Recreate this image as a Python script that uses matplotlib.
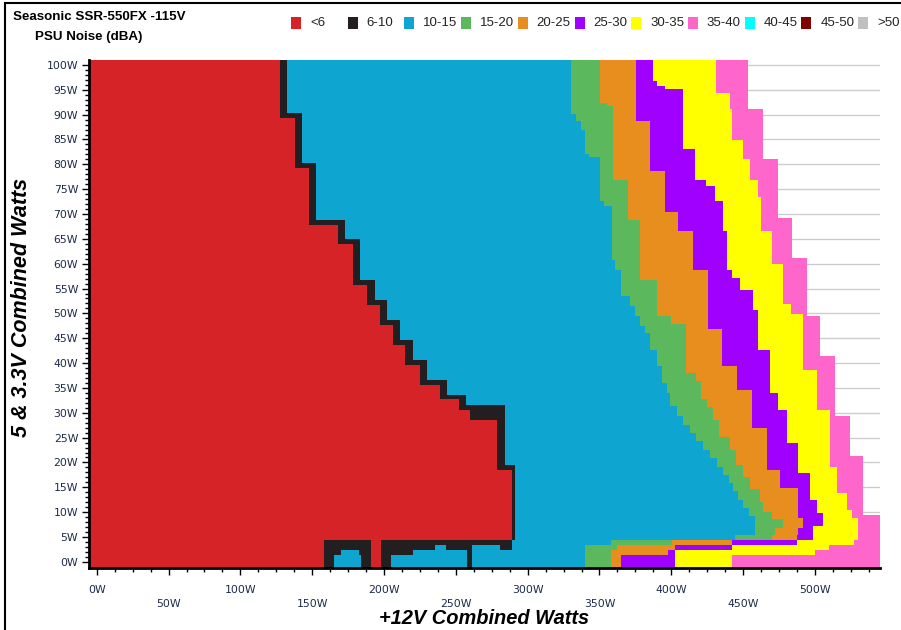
import numpy as np
import matplotlib
matplotlib.use('Agg')
import matplotlib.pyplot as plt
from matplotlib.colors import ListedColormap
from matplotlib.patches import Rectangle

# noise bands (dBA)
legend_labels = ['<6', '6-10', '10-15', '15-20', '20-25', '25-30', '30-35', '35-40', '40-45', '45-50', '>50']
legend_colors = ['#D62327', '#231F20', '#0EA5D1', '#5CB85C', '#E88E1E', '#A000FF',
                 '#FFFF00', '#FF66CC', '#00FFFF', '#800000', '#C0C0C0']

# band edges above ~4W on the 5/3.3V rail.
# each pair: (lowest 5&3.3V watts of the step, +12V watts where the next band starts)
red_edge = [(89.3, 127.6), (79.2, 138), (67.8, 148), (63.8, 168), (55.7, 178.6), (51.7, 188.4),
            (47.6, 197), (43.6, 206), (39.6, 215), (35.6, 225), (32.6, 239), (30.5, 252),
            (28.5, 260), (18.5, 279), (4.4, 289)]
black_edge = [(90.3, 132.7), (80.2, 143), (68.8, 153), (64.8, 173), (56.7, 183.5), (52.7, 193.5),
              (48.6, 202), (44.6, 211), (40.6, 220), (36.6, 230), (33.6, 244), (31.5, 257),
              (19.5, 284), (4.4, 291)]
blue_edge = [(90.0, 330.5), (88.6, 333.5), (86.9, 337.6), (81.9, 340), (81.3, 343), (72.5, 350.3),
             (71.5, 353), (60.7, 358.5), (58.7, 361), (53.4, 365.4), (51.5, 371), (49.3, 375),
             (47.3, 378), (46.0, 381.6), (42.6, 385), (39.3, 389.8), (35.9, 393.2), (33.9, 396.7),
             (31.2, 399), (29.2, 403.7), (27.5, 408.3), (25.9, 413), (24.2, 417.6), (22.5, 422),
             (20.8, 427), (19.1, 431.5), (17.5, 436), (15.8, 440), (14.1, 443), (12.4, 446.5),
             (10.7, 450), (9.1, 454), (5.3, 458), (4.4, 444.3)]
green_edge = [(92.3, 350.3), (91.6, 355), (76.8, 359.6), (68.8, 370.1), (56.7, 378.2), (49.3, 389.8),
              (47.7, 400), (38.0, 410.6), (36.3, 417.6), (32.6, 420.9), (31.0, 425), (28.5, 429.2),
              (25.0, 433), (22.5, 440.8), (19.5, 445), (17.0, 450), (14.5, 455), (12.0, 461.7),
              (10.0, 464), (8.5, 469.8), (6.8, 478), (5.3, 472), (4.4, 469.8)]
orange_edge = [(88.6, 375.9), (78.5, 385.1), (70.4, 395.6), (66.4, 404.8), (58.7, 415.3), (46.7, 425.9),
               (39.3, 435.2), (34.6, 445.6), (26.9, 456), (18.5, 466.5), (14.8, 475.7), (8.8, 488.5),
               (6.8, 492), (5.3, 488.5), (4.4, 487.2)]
purple_edge = [(96.6, 387.5), (95.6, 389.8), (95.0, 395.6), (82.9, 408.3), (76.8, 416.5), (75.5, 424.6),
               (72.5, 430.4), (66.4, 436.2), (58.7, 438.5), (57.0, 442), (54.7, 447.8), (50.7, 457.1),
               (42.6, 460.6), (33.9, 468.7), (30.5, 474), (23.9, 480.3), (17.8, 488.5), (12.4, 496.5),
               (9.8, 501.2), (7.1, 505.8), (4.4, 498.8)]
yellow_edge = [(94.3, 431), (91.0, 441.1), (84.9, 442.3), (80.9, 450), (76.8, 454.8), (73.4, 460.6),
               (66.4, 462.9), (59.9, 469.8), (51.9, 477.9), (49.7, 483), (38.6, 491.7), (30.5, 501.2),
               (19.1, 510.5), (13.8, 515.1), (10.4, 522), (8.8, 525.5), (4.4, 530.1)]
pink_edge = [(91.0, 453.6), (80.9, 464), (69.1, 474.5), (61.1, 483.8), (49.3, 494.2), (41.3, 503.6),
             (29.2, 514), (21.2, 524.4), (9.4, 533.7), (-2.0, 545.3)]

# lowest rows are patchy, so they are listed segment by segment
bottom_row_low = [3.4, 2.4, 1.4, -1.3]
bottom_row_ends = [
    [158.4, 191.4, 198, 289, 358.4, 400.2, 442.6, 487.2, 527, 545.3],
    [158.4, 191.4, 198, 235.5, 243.6, 261, 280.7, 289, 340, 362, 402.5, 442.6, 510, 545.3],
    [158.4, 170, 183, 191.4, 198, 220, 257.5, 261, 340, 358.4, 398, 402.5, 500, 545.3],
    [158.4, 165, 184, 191.4, 198, 205, 257.5, 261, 340, 358.4, 365.4, 402.5, 442.6, 545.3],
]
bottom_row_levels = [
    [0, 1, 0, 1, 2, 3, 4, 5, 6, 7],
    [0, 1, 0, 1, 2, 1, 2, 1, 2, 3, 4, 5, 6, 7],
    [0, 1, 2, 1, 0, 1, 2, 1, 2, 3, 4, 5, 6, 7],
    [0, 1, 2, 1, 0, 1, 2, 1, 2, 3, 4, 5, 6, 7],
]

x_min, x_max = -5.2, 545.3
y_min, y_max = -1.3, 101.1


def edge_at(steps, y):
    for y_low, x in steps:
        if y >= y_low:
            return x
    return steps[-1][1]


dx, dy = 0.25, 0.1
x_cells = np.arange(x_min, x_max, dx) + dx / 2
y_cells = np.arange(y_min, y_max, dy) + dy / 2
grid = np.full((len(y_cells), len(x_cells)), 8)
main_edges = [red_edge, black_edge, blue_edge, green_edge, orange_edge, purple_edge, yellow_edge, pink_edge]

for i, y in enumerate(y_cells):
    if y >= 4.4:
        edges = [edge_at(e, y) for e in main_edges]
        grid[i] = np.searchsorted(edges, x_cells, side='right')
    else:
        r = next(k for k, lo in enumerate(bottom_row_low) if y >= lo)
        lev = np.array(bottom_row_levels[r] + [8])
        grid[i] = lev[np.searchsorted(bottom_row_ends[r], x_cells, side='right')]

fig = plt.figure(figsize=(9.01, 6.30), dpi=100)
ax = fig.add_axes([89.3 / 901, 61.7 / 630, (880 - 89.3) / 901, (568.3 - 59.5) / 630])

cmap = ListedColormap(legend_colors[:8])
cmap.set_bad((1, 1, 1, 0))
ax.imshow(np.ma.masked_equal(grid, 8), cmap=cmap, vmin=-0.5, vmax=7.5, origin='lower',
          extent=[x_min, x_min + dx * len(x_cells), y_min, y_min + dy * len(y_cells)],
          aspect='auto', interpolation='nearest', zorder=2)

ax.set_xlim(x_min, x_max)
ax.set_ylim(y_min, y_max)
ax.set_axisbelow(True)
ax.yaxis.grid(True, color='#cccccc', lw=1)

for s in ['top', 'right']:
    ax.spines[s].set_visible(False)
for s in ['left', 'bottom']:
    ax.spines[s].set_linewidth(2)
    ax.spines[s].set_zorder(5)

tick_col = '#1c2a48'
x_major = np.arange(0, 501, 50)
ax.set_xticks(x_major)
ax.set_xticklabels([('%dW' % v) if (v // 50) % 2 == 0 else ('\n%dW' % v) for v in x_major])
ax.set_xticks(np.arange(0, 545, 12.5), minor=True)
y_major = np.arange(0, 101, 5)
ax.set_yticks(y_major)
ax.set_yticklabels(['%dW' % v for v in y_major])
ax.set_yticks(np.arange(0, 101, 1), minor=True)
ax.tick_params(which='major', length=5, width=1, labelsize=7.8, labelcolor=tick_col, pad=3)
ax.tick_params(axis='x', which='major', pad=7)
ax.tick_params(which='minor', length=3, width=1)
for lab in ax.get_xticklabels() + ax.get_yticklabels():
    lab.set_fontfamily('DejaVu Sans')
for lab in ax.get_xticklabels():
    lab.set_linespacing(1.55)

fig.text(484 / 901, 1 - 618 / 630, '+12V Combined Watts', fontsize=14.4, fontweight='bold',
         style='italic', family='Liberation Sans', ha='center', va='center')
fig.text(22 / 901, 1 - 307 / 630, '5 & 3.3V Combined Watts', fontsize=15.5, fontweight='bold',
         style='italic', family='Liberation Sans', ha='center', va='center', rotation=90)

fig.text(13 / 901, 1 - 17 / 630, 'Seasonic SSR-550FX -115V', fontsize=9.6, fontweight='bold',
         family='Liberation Sans', va='center')
fig.text(35 / 901, 1 - 37 / 630, 'PSU Noise (dBA)', fontsize=9.6, fontweight='bold',
         family='Liberation Sans', va='center')

# legend row
for i, (lab, col) in enumerate(zip(legend_labels, legend_colors)):
    x0 = 291 + i * 56.7
    fig.add_artist(Rectangle((x0 / 901, 1 - 29 / 630), 10 / 901, 12 / 630,
                             transform=fig.transFigure, color=col, lw=0))
    fig.text((x0 + 19) / 901, 1 - 23 / 630, lab, fontsize=9.5, family='Liberation Sans',
             va='center', color='#222222')

# frame lines at top and left of the picture
fig.add_artist(plt.Line2D([5 / 901, 1], [1 - 2.5 / 630, 1 - 2.5 / 630], transform=fig.transFigure,
                          color='black', lw=1.5))
fig.add_artist(plt.Line2D([5 / 901, 5 / 901], [0, 1 - 2.5 / 630], transform=fig.transFigure,
                          color='black', lw=1.5))

fig.savefig('out.png', dpi=100)
